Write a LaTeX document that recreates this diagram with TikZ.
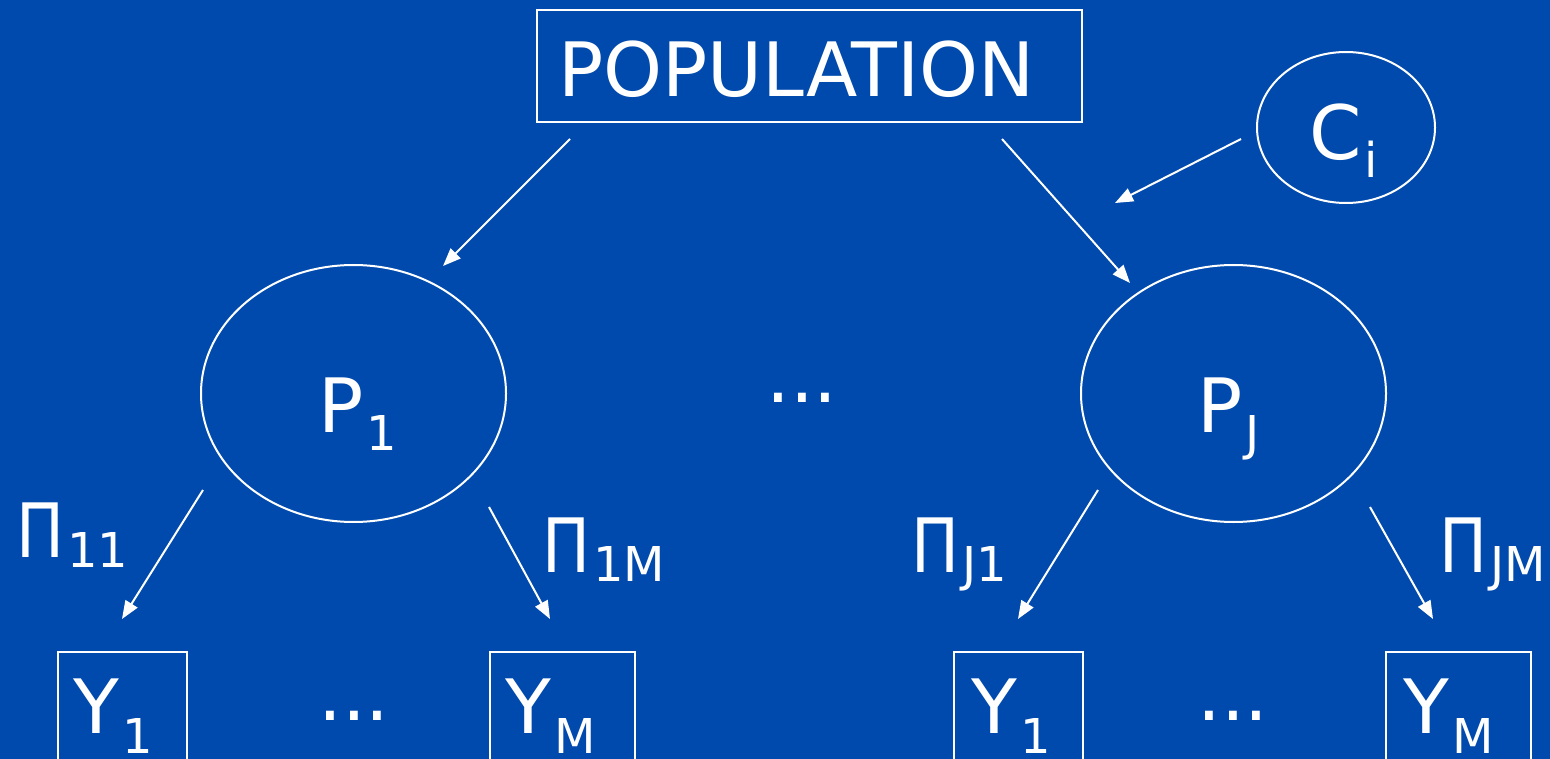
\documentclass[tikz,border=0pt]{standalone}
\usepackage{fontspec}
\usepackage{graphicx}
\setmainfont{DejaVu Sans}
\usetikzlibrary{arrows.meta,shapes.geometric}
\definecolor{bg}{RGB}{0,74,173}
\newcommand{\sbs}[2][20pt]{\hspace{3pt}\raisebox{-#1}{\fontsize{48}{56}\selectfont #2}}
\newcommand{\PiL}{\scalebox{0.85}[1]{Π}}
\begin{document}
\begin{tikzpicture}[x=1pt,y=-1pt,
  ln/.style={white, line width=2pt},
  arr/.style={ln, -{Triangle[length=18pt,width=14pt]}},
  ell/.style={ellipse, draw=white, line width=2pt, inner sep=0pt},
  bx/.style={rectangle, draw=white, line width=2pt, inner sep=0pt},
  txt/.style={text=white, font=\fontsize{75}{90}\selectfont, inner sep=0pt, anchor=base west}]
\fill[bg] (0,0) rectangle (1550,759);
\useasboundingbox (0,0) rectangle (1550,759);
% boxes and ellipses
\node[bx, minimum width=545, minimum height=112] (pop) at (809.5,66) {};
\node[txt] (poptxt) at (558,97) {POPULATION};
\node[ell, minimum width=178, minimum height=151] (ci) at (1346,127.5) {};
\node[txt] (citxt) at (1309,160) {C\sbs[18pt]{i}};
\node[ell, minimum width=305, minimum height=257] (p1) at (353.5,393.5) {};
\node[txt] (p1txt) at (318,432) {P\sbs[18pt]{1}};
\node[ell, minimum width=305, minimum height=257] (pj) at (1233.5,393.5) {};
\node[txt] (pjtxt) at (1197,432) {P\sbs[18pt]{J}};
\node[txt] (dots) at (766,402) {...};
% Y boxes
\node[bx, minimum width=129, minimum height=140, anchor=north west] (y1a) at (57,651) {};
\node[bx, minimum width=145, minimum height=140, anchor=north west] (yma) at (489,651) {};
\node[bx, minimum width=129, minimum height=140, anchor=north west] (y1b) at (953,651) {};
\node[bx, minimum width=145, minimum height=140, anchor=north west] (ymb) at (1385,651) {};
\node[txt] (y1at) at (73,733) {Y\sbs{1}};
\node[txt] (ymat) at (505,733) {Y\sbs{M}};
\node[txt] (y1bt) at (971,733) {Y\sbs{1}};
\node[txt] (ymbt) at (1403,733) {Y\sbs{M}};
\node[txt] (dotsa) at (318,720) {...};
\node[txt] (dotsb) at (1197,720) {...};
% Pi labels
\node[txt] (pi11) at (16,557) {\PiL\sbs[10pt]{11}};
\node[txt] (pi1m) at (542,572) {\PiL\sbs[9pt]{1M}};
\node[txt] (pij1) at (911,572) {\PiL\sbs[9pt]{J1}};
\node[txt] (pijm) at (1439,572) {\PiL\sbs[9pt]{JM}};
% connector endpoints
\coordinate (a1s) at (570,139); \coordinate (a1e) at (443,266);
\coordinate (a2s) at (1002,139); \coordinate (a2e) at (1130,283);
\coordinate (a3s) at (1241,139); \coordinate (a3e) at (1115,203);
\coordinate (b1s) at (203,490); \coordinate (b1e) at (122,619);
\coordinate (b2s) at (489,507); \coordinate (b2e) at (550,619);
\coordinate (b3s) at (1098,490); \coordinate (b3e) at (1018,619);
\coordinate (b4s) at (1370,507); \coordinate (b4e) at (1433,619);
\draw[arr] (a1s) -- (a1e);
\draw[arr] (a2s) -- (a2e);
\draw[arr] (a3s) -- (a3e);
\draw[arr] (b1s) -- (b1e);
\draw[arr] (b2s) -- (b2e);
\draw[arr] (b3s) -- (b3e);
\draw[arr] (b4s) -- (b4e);
\end{tikzpicture}
\end{document}
